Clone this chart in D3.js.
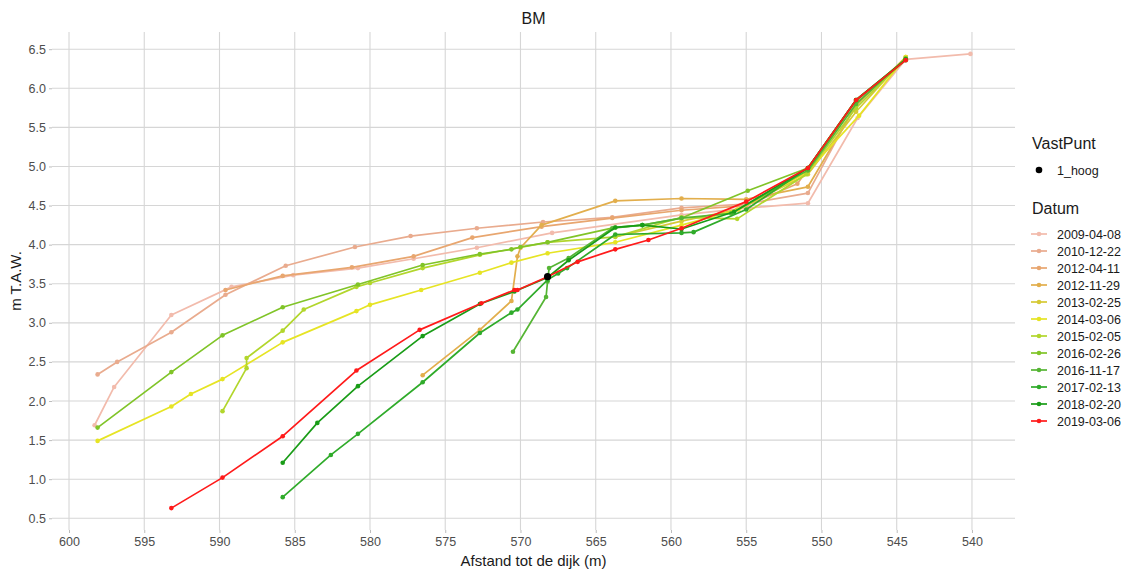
<!DOCTYPE html>
<html><head><meta charset="utf-8">
<script src="https://cdn.jsdelivr.net/npm/d3@7"></script>
<style>body{margin:0;background:#fff;font-family:"Liberation Sans",Arial,sans-serif}</style>
</head><body><svg id="c" width="1132" height="572"></svg>
<script>
const dates = ["2009-04-08","2010-12-22","2012-04-11","2012-11-29","2013-02-25","2014-03-06","2015-02-05","2016-02-26","2016-11-17","2017-02-13","2018-02-20","2019-03-06"];
const colors = ["#f2bbac","#e9ab8e","#e8a66f","#e2ae4c","#d6c935","#e6e424","#b2d62c","#80c428","#55b534","#2fab2a","#199c17","#ff1a1a"];
const xTicks = [600,595,590,585,580,575,570,565,560,555,550,545,540];
const yTicks = [0.5,1.0,1.5,2.0,2.5,3.0,3.5,4.0,4.5,5.0,5.5,6.0,6.5];
const s2009 = [[598.3,1.69],[597.0,2.18],[593.2,3.10],[589.2,3.46],[585.1,3.61],[580.8,3.70],[577.1,3.82],[572.9,3.96],[567.9,4.15],[559.3,4.38],[554.8,4.47],[550.9,4.53],[547.6,5.62],[544.4,6.37],[540.1,6.44]];
const s2010 = [[598.1,2.34],[596.8,2.50],[593.2,2.88],[589.6,3.36],[585.6,3.73],[581.0,3.97],[577.3,4.11],[572.9,4.21],[568.5,4.29],[563.9,4.35],[559.3,4.47],[555.0,4.52],[550.9,4.66],[547.7,5.80],[544.4,6.38]];
const s2012a = [[589.6,3.42],[585.8,3.60],[581.2,3.71],[577.1,3.85],[573.2,4.09],[568.6,4.23],[563.9,4.34],[559.3,4.44],[555.0,4.50],[551.6,4.78],[547.7,5.82],[544.4,6.38]];
const s2012b = [[576.5,2.33],[572.7,2.91],[570.6,3.28],[570.2,3.85],[570.0,3.96],[568.6,4.25],[563.7,4.56],[559.3,4.59],[555.0,4.58],[550.9,4.74],[547.7,5.78],[544.4,6.40]];
const s2013 = [[563.7,4.10],[559.3,4.30],[555.6,4.45],[550.9,4.90],[547.7,5.70],[544.4,6.40]];
const s2014 = [[598.1,1.49],[593.2,1.93],[591.9,2.09],[589.8,2.28],[585.8,2.75],[580.9,3.15],[580.0,3.23],[576.6,3.42],[572.7,3.64],[570.6,3.77],[568.2,3.89],[563.7,4.03],[559.3,4.25],[555.5,4.45],[551.0,4.92],[547.5,5.65],[544.4,6.40]];
const s2015 = [[589.8,1.87],[588.2,2.42],[588.2,2.55],[585.8,2.90],[584.4,3.17],[580.9,3.46],[580.0,3.51],[576.5,3.70],[572.7,3.87],[568.2,4.03],[563.7,4.10],[559.3,4.35],[555.6,4.33],[551.0,4.90],[547.7,5.75],[544.4,6.38]];
const s2016a = [[598.1,1.66],[593.2,2.37],[589.8,2.84],[585.8,3.20],[580.8,3.49],[576.5,3.74],[572.7,3.88],[570.6,3.94],[570.0,3.97],[568.2,4.03],[563.7,4.22],[561.9,4.25],[559.3,4.34],[554.9,4.69],[550.9,4.98],[547.7,5.85],[544.4,6.37]];
const s2016b = [[570.5,2.63],[568.3,3.33],[568.2,3.53],[568.1,3.70],[566.8,3.83],[563.9,4.21],[561.9,4.25],[559.3,4.34],[556.0,4.40],[550.9,4.95],[547.7,5.80],[544.4,6.38]];
const s2017 = [[585.8,0.77],[582.6,1.31],[580.8,1.58],[576.5,2.24],[572.7,2.87],[570.6,3.13],[570.2,3.17],[568.2,3.55],[567.5,3.63],[566.9,3.70],[563.7,4.13],[559.3,4.15],[558.5,4.16],[555.0,4.45],[550.9,4.98],[547.7,5.85],[544.4,6.36]];
const s2018 = [[585.8,1.21],[583.5,1.72],[580.8,2.19],[576.5,2.83],[572.7,3.24],[570.4,3.40],[568.2,3.58],[566.8,3.80],[563.7,4.22],[561.9,4.25],[559.3,4.20],[555.8,4.42],[550.9,4.98],[547.7,5.85],[544.4,6.37]];
const s2019 = [[593.2,0.63],[589.8,1.02],[585.8,1.55],[580.9,2.39],[576.7,2.91],[572.6,3.25],[570.4,3.42],[570.2,3.42],[568.2,3.59],[566.2,3.78],[563.7,3.94],[561.5,4.06],[559.3,4.21],[555.0,4.55],[550.9,4.98],[547.7,5.85],[544.4,6.36]];
const vastPunt = [[568.2,3.59]];
const seriesList = [s2009,s2010,s2012a,s2012b,s2013,s2014,s2015,s2016a,s2016b,s2017,s2018,s2019];

const svg = d3.select("#c");
const L=52,R=1015,T=32,B=530;
const x = d3.scaleLinear().domain([601.13,537.14]).range([L,R]);
const y = d3.scaleLinear().domain([0.35,6.72]).range([B,T]);
const grid = svg.append("g");
xTicks.forEach(t=>grid.append("line").attr("x1",x(t)).attr("x2",x(t)).attr("y1",T).attr("y2",B).attr("stroke","#d6d6d6").attr("stroke-width",1.1));
yTicks.forEach(t=>grid.append("line").attr("x1",L).attr("x2",R).attr("y1",y(t)).attr("y2",y(t)).attr("stroke","#d6d6d6").attr("stroke-width",1.1));

const xAxis = svg.append("g").attr("transform",`translate(0,${B})`).call(d3.axisBottom(x).tickValues(xTicks).tickSize(3).tickPadding(4).tickFormat(d3.format("d")));
const yAxis = svg.append("g").attr("transform",`translate(${L},0)`).call(d3.axisLeft(y).tickValues(yTicks).tickSize(3).tickPadding(3).tickFormat(d3.format(".1f")));
[xAxis,yAxis].forEach(a=>{a.select(".domain").remove();a.selectAll("line").attr("stroke","#bdbdbd");a.selectAll("text").attr("fill","#4d4d4d").style("font-size","12.5px").style("font-family","Liberation Sans, Arial, sans-serif");});

const line = d3.line().x(d=>x(d[0])).y(d=>y(d[1]));
seriesList.forEach((s,i)=>{
  const g = svg.append("g");
  g.append("path").attr("d",line(s)).attr("fill","none").attr("stroke",colors[i]).attr("stroke-width",1.7).attr("stroke-linejoin","round");
  g.selectAll("circle").data(s).join("circle").attr("cx",d=>x(d[0])).attr("cy",d=>y(d[1])).attr("r",2.3).attr("fill",colors[i]);
});
svg.selectAll(".vp").data(vastPunt).join("circle").attr("cx",d=>x(d[0])).attr("cy",d=>y(d[1])).attr("r",3.6).attr("fill","#000");

svg.append("text").attr("x",(L+R)/2).attr("y",24).attr("text-anchor","middle").style("font-size","16px").attr("fill","#1a1a1a").text("BM");
svg.append("text").attr("x",(L+R)/2).attr("y",566).attr("text-anchor","middle").style("font-size","15px").attr("fill","#1a1a1a").text("Afstand tot de dijk (m)");
svg.append("text").attr("transform",`translate(21,${(T+B)/2}) rotate(-90)`).attr("text-anchor","middle").style("font-size","15px").attr("fill","#1a1a1a").text("m T.A.W.");

const lg = svg.append("g");
lg.append("text").attr("x",1032).attr("y",149).style("font-size","16px").attr("fill","#1a1a1a").text("VastPunt");
lg.append("circle").attr("cx",1039).attr("cy",170).attr("r",3.3).attr("fill","#000");
lg.append("text").attr("x",1057).attr("y",174.5).style("font-size","12.5px").attr("fill","#1a1a1a").text("1_hoog");
lg.append("text").attr("x",1032).attr("y",214).style("font-size","16px").attr("fill","#1a1a1a").text("Datum");
dates.forEach((d,i)=>{
  const yy = 234 + i*17.0;
  lg.append("line").attr("x1",1031).attr("x2",1047).attr("y1",yy).attr("y2",yy).attr("stroke",colors[i]).attr("stroke-width",1.7);
  lg.append("circle").attr("cx",1039).attr("cy",yy).attr("r",2.3).attr("fill",colors[i]);
  lg.append("text").attr("x",1057).attr("y",yy+4.5).style("font-size","12.5px").attr("fill","#1a1a1a").text(d);
});
</script></body></html>
